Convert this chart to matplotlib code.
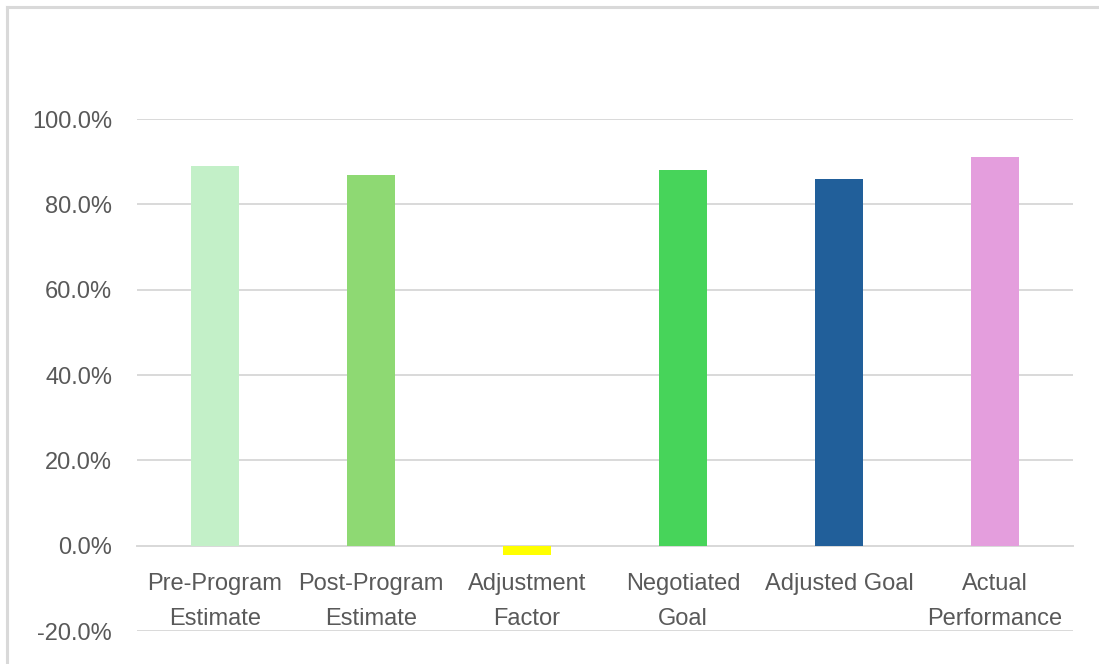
import matplotlib.pyplot as plt
from matplotlib.lines import Line2D
from matplotlib.ticker import FuncFormatter

categories = ["Pre-Program\nEstimate", "Post-Program\nEstimate", "Adjustment\nFactor",
              "Negotiated\nGoal", "Adjusted Goal", "Actual\nPerformance"]
values = [89.0, 86.9, -2.2, 88.0, 85.9, 91.0]
bar_colors = ["#C3F0C8", "#8ED973", "#FFFF00", "#47D45A", "#215F9A", "#E49EDD"]
y_ticks = [-20, 0, 20, 40, 60, 80, 100]

plt.rcParams['font.family'] = ['Liberation Sans', 'DejaVu Sans']

fig = plt.figure(figsize=(10.99, 6.64), dpi=100)
ax = fig.add_axes([137 / 1099, 33 / 664, (1073 - 137) / 1099, (631 - 119) / 664])

x = range(len(categories))
ax.bar(x, values, width=0.31, color=bar_colors, zorder=3)

ax.set_xlim(-0.5, len(categories) - 0.5)
ax.set_ylim(-20, 100)
ax.set_yticks(y_ticks)
ax.yaxis.set_major_formatter(FuncFormatter(lambda v, p: f"{v:.1f}%"))
ax.grid(axis='y', color='#D9D9D9', linewidth=1.4, zorder=0)

# category labels sit under the zero line, like Excel does
ax.spines['bottom'].set_position(('data', 0))
ax.spines['bottom'].set_color('#D9D9D9')
ax.spines['bottom'].set_linewidth(1.4)
for s in ['top', 'right', 'left']:
    ax.spines[s].set_visible(False)
ax.set_xticks(list(x))
ax.set_xticklabels(categories, linespacing=1.78)
ax.tick_params(axis='x', length=0, pad=19.5, labelsize=17, labelcolor='#595959')
ax.tick_params(axis='y', length=0, pad=18, labelsize=17, labelcolor='#595959')

# chart frame (only top and left edges visible)
fig.add_artist(Line2D([7 / 1099, 1], [1 - 7 / 664, 1 - 7 / 664], color='#D9D9D9', linewidth=2.2))
fig.add_artist(Line2D([7 / 1099, 7 / 1099], [0, 1 - 7 / 664], color='#D9D9D9', linewidth=2.2))

fig.savefig("out.png", dpi=100)
